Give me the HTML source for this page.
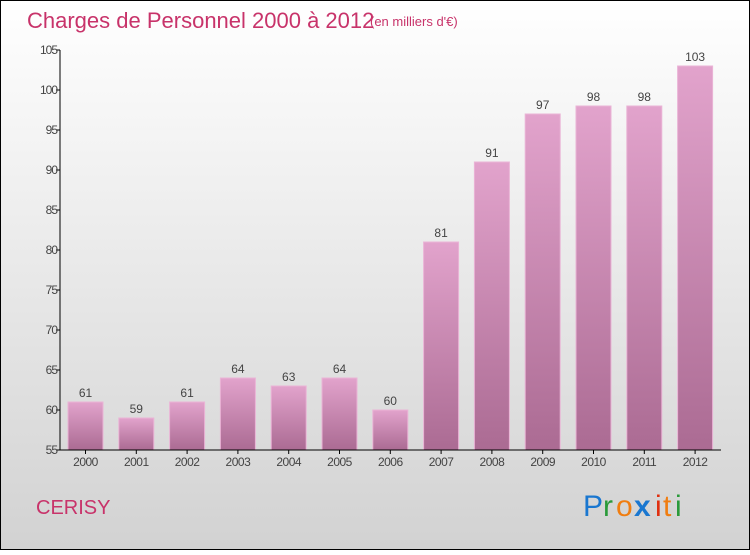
<!DOCTYPE html>
<html><head><meta charset="utf-8"><style>
body{margin:0}
#wrap{width:750px;height:550px;position:relative;font-family:"Liberation Sans",sans-serif}
</style></head><body>
<div id="wrap">
<svg id="chart" width="750" height="550" xmlns="http://www.w3.org/2000/svg">
<defs>
<linearGradient id="bg" x1="0" y1="0" x2="0" y2="1"><stop offset="0" stop-color="#ffffff"/><stop offset="1" stop-color="#d2d2d2"/></linearGradient>
<linearGradient id="barg" x1="0" y1="0" x2="0" y2="1"><stop offset="0" stop-color="#e2a3cc"/><stop offset="1" stop-color="#ab6b93"/></linearGradient>
</defs>
<rect x="0.5" y="0.5" width="749" height="549" fill="url(#bg)" stroke="#000"/>
<text x="27" y="28" font-size="22" fill="#c8336a">Charges de Personnel 2000 à 2012</text>
<text x="370" y="26" font-size="13" fill="#c8336a">(en milliers d'€)</text>
<g id="yaxis"></g><g id="bars"></g><g id="xaxis"></g>
<text x="36" y="514" font-size="20" fill="#c8336a">CERISY</text>
<g font-size="30" font-family="Liberation Sans,sans-serif">
<text x="583" y="516" fill="#1a77d0">P</text><text x="603" y="516" fill="#2a9a3a">r</text><text x="616" y="516" fill="#f07d10">o</text><text x="634" y="516" fill="#1a77d0" font-weight="bold">x</text><text x="655" y="516" fill="#e03010">i</text><text x="663" y="516" fill="#f07d10">t</text><text x="675" y="516" fill="#2a9a3a">i</text>
</g>
</svg></div>
<script>
const categories=["2000","2001","2002","2003","2004","2005","2006","2007","2008","2009","2010","2011","2012"];
const values=[61,59,61,64,63,64,60,81,91,97,98,98,103];
const yTicks=[55,60,65,70,75,80,85,90,95,100,105];
const NS="http://www.w3.org/2000/svg";
const y0=450,yMin=55,pxPer=8,x0=60,step=50.8,firstC=85.5,bw=35;
function yS(v){return y0-(v-yMin)*pxPer}
function xS(i){return firstC+i*step}
function mk(t,a,p){const e=document.createElementNS(NS,t);for(const k in a)e.setAttribute(k,a[k]);p.appendChild(e);return e}
const ya=document.getElementById('yaxis'),ba=document.getElementById('bars'),xa=document.getElementById('xaxis');
const yl=mk('line',{x1:x0,y1:yS(105),x2:x0,y2:y0,stroke:'#000'},ya);


yTicks.forEach(v=>{
 const tk=mk('line',{x1:x0-4,y1:yS(v),x2:x0,y2:yS(v),stroke:'#000'},ya);
 
 
 const t=mk('text',{x:x0-3,y:yS(v)+4,'font-size':12,fill:'#444','text-anchor':'end','letter-spacing':'-1'},ya);
 t.textContent=v;
 
 
});
values.forEach((v,i)=>{
 const r=mk('rect',{x:xS(i)-bw/2,y:yS(v),width:bw,height:y0-yS(v),fill:'url(#barg)',stroke:'#eab4d6','stroke-width':1},ba);
 
 
 const t=mk('text',{x:xS(i),y:yS(v)-5,'font-size':12,fill:'#444','text-anchor':'middle'},ba);
 t.textContent=v;
 
 
 const tk=mk('line',{x1:xS(i),y1:y0,x2:xS(i),y2:y0+4,stroke:'#000'},xa);
 
 
 const c=mk('text',{x:xS(i),y:y0+16,'font-size':12,fill:'#444','text-anchor':'middle','letter-spacing':'-0.5'},xa);
 c.textContent=categories[i];
 
 
});
const xl=mk('line',{x1:x0,y1:y0,x2:721,y2:y0,stroke:'#000'},xa);


</script>
</body></html>
